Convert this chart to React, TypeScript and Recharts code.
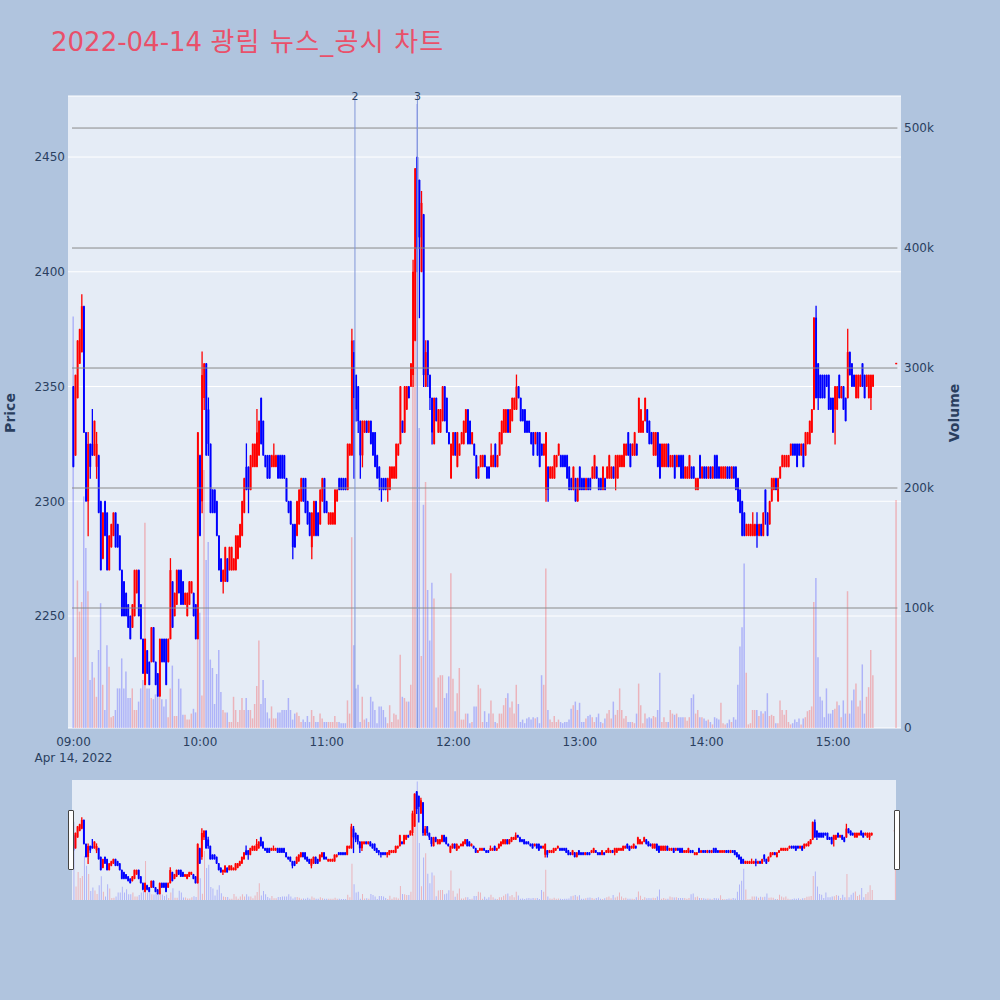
import React from 'react';
import { ComposedChart, Bar, Cell, XAxis, YAxis, CartesianGrid, ReferenceLine } from 'recharts';

const TITLE_DATE = '2022-04-14';
const TITLE_TEXT = '광림 뉴스_공시 차트';
const DATE_LABEL = 'Apr 14, 2022';

// minutes after 09:00: one-minute candles until 15:19, then the 15:30 closing auction
const MINUTES = [...Array.from({ length: 380 }, (_, i) => i), 390];

const OPEN = [
  2350, 2320, 2345, 2360, 2365, 2385, 2330, 2300, 2325, 2325,
  2320, 2315, 2320, 2300, 2275, 2300, 2295, 2270, 2280, 2285,
  2295, 2290, 2285, 2270, 2265, 2260, 2255, 2250, 2245, 2250,
  2260, 2270, 2255, 2240, 2220, 2235, 2230, 2230, 2245, 2230,
  2225, 2215, 2240, 2240, 2240, 2230, 2240, 2265, 2250, 2255,
  2270, 2270, 2265, 2255, 2250, 2255, 2260, 2260, 2255, 2240,
  2320, 2300, 2345, 2360, 2340, 2325, 2305, 2305, 2300, 2285,
  2275, 2265, 2265, 2275, 2270, 2270, 2270, 2270, 2275, 2280,
  2285, 2295, 2315, 2315, 2305, 2315, 2315, 2315, 2320, 2345,
  2335, 2320, 2320, 2320, 2315, 2315, 2315, 2320, 2320, 2320,
  2320, 2310, 2300, 2300, 2290, 2290, 2285, 2290, 2300, 2310,
  2310, 2300, 2295, 2280, 2285, 2300, 2295, 2290, 2300, 2310,
  2300, 2290, 2290, 2290, 2290, 2300, 2310, 2310, 2310, 2310,
  2305, 2320, 2320, 2365, 2355, 2350, 2335, 2320, 2330, 2335,
  2330, 2335, 2330, 2330, 2320, 2315, 2310, 2310, 2310, 2305,
  2305, 2310, 2310, 2310, 2320, 2325, 2335, 2330, 2340, 2350,
  2350, 2355, 2370, 2450, 2440, 2400, 2425, 2350, 2370, 2355,
  2345, 2325, 2345, 2330, 2330, 2335, 2350, 2345, 2330, 2310,
  2320, 2330, 2315, 2320, 2325, 2325, 2330, 2340, 2335, 2325,
  2325, 2320, 2310, 2315, 2315, 2320, 2315, 2315, 2315, 2315,
  2325, 2315, 2320, 2325, 2330, 2330, 2340, 2330, 2335, 2340,
  2340, 2350, 2345, 2340, 2340, 2335, 2335, 2330, 2330, 2325,
  2330, 2330, 2325, 2320, 2305, 2315, 2310, 2310, 2310, 2315,
  2320, 2320, 2320, 2320, 2320, 2315, 2310, 2305, 2310, 2300,
  2315, 2310, 2310, 2305, 2310, 2310, 2310, 2310, 2315, 2310,
  2310, 2305, 2310, 2310, 2310, 2310, 2315, 2310, 2310, 2315,
  2315, 2315, 2320, 2330, 2325, 2320, 2320, 2325, 2330, 2330,
  2330, 2335, 2340, 2335, 2330, 2320, 2320, 2330, 2325, 2315,
  2315, 2315, 2325, 2315, 2315, 2320, 2315, 2320, 2320, 2320,
  2310, 2310, 2310, 2315, 2315, 2305, 2305, 2320, 2310, 2315,
  2315, 2310, 2315, 2310, 2320, 2320, 2315, 2310, 2310, 2310,
  2315, 2315, 2310, 2315, 2315, 2310, 2305, 2300, 2295, 2285,
  2285, 2285, 2285, 2285, 2290, 2285, 2290, 2285, 2305, 2295,
  2290, 2300, 2305, 2310, 2300, 2310, 2315, 2315, 2315, 2315,
  2320, 2325, 2325, 2325, 2325, 2320, 2325, 2320, 2325, 2325,
  2330, 2340, 2380, 2360, 2355, 2355, 2355, 2355, 2355, 2345,
  2345, 2340, 2340, 2355, 2345, 2350, 2345, 2345, 2365, 2360,
  2355, 2345, 2345, 2350, 2360, 2355, 2350, 2345, 2345, 2350,
  2360,
];

const HIGH = [
  2350, 2355, 2370, 2375, 2390, 2385, 2330, 2330, 2325, 2340,
  2335, 2330, 2320, 2300, 2295, 2300, 2295, 2285, 2290, 2295,
  2295, 2290, 2285, 2270, 2265, 2260, 2255, 2250, 2255, 2270,
  2270, 2270, 2255, 2240, 2240, 2235, 2230, 2245, 2245, 2230,
  2225, 2240, 2240, 2240, 2240, 2240, 2275, 2265, 2260, 2270,
  2270, 2270, 2265, 2260, 2260, 2265, 2265, 2260, 2255, 2330,
  2320, 2365, 2360, 2360, 2345, 2325, 2305, 2305, 2300, 2285,
  2275, 2270, 2280, 2275, 2280, 2280, 2275, 2285, 2285, 2290,
  2300, 2310, 2325, 2315, 2320, 2325, 2325, 2340, 2335, 2345,
  2335, 2320, 2320, 2320, 2320, 2325, 2320, 2320, 2320, 2320,
  2320, 2310, 2300, 2300, 2290, 2290, 2300, 2305, 2310, 2310,
  2310, 2300, 2295, 2295, 2300, 2300, 2295, 2305, 2310, 2310,
  2300, 2295, 2295, 2295, 2305, 2305, 2310, 2310, 2310, 2310,
  2325, 2325, 2375, 2370, 2355, 2350, 2335, 2335, 2335, 2335,
  2335, 2335, 2330, 2330, 2320, 2315, 2310, 2310, 2310, 2310,
  2315, 2315, 2315, 2325, 2325, 2350, 2335, 2350, 2350, 2350,
  2360, 2405, 2445, 2450, 2440, 2435, 2425, 2370, 2370, 2355,
  2345, 2345, 2345, 2340, 2340, 2350, 2350, 2345, 2330, 2325,
  2330, 2330, 2330, 2325, 2330, 2335, 2340, 2340, 2335, 2330,
  2325, 2320, 2315, 2320, 2320, 2320, 2315, 2315, 2325, 2320,
  2325, 2320, 2330, 2335, 2340, 2340, 2340, 2340, 2345, 2345,
  2355, 2350, 2345, 2340, 2340, 2335, 2335, 2330, 2330, 2330,
  2330, 2330, 2325, 2325, 2330, 2315, 2315, 2315, 2320, 2320,
  2325, 2320, 2320, 2320, 2320, 2315, 2310, 2315, 2310, 2310,
  2315, 2310, 2310, 2310, 2310, 2310, 2315, 2320, 2315, 2310,
  2310, 2315, 2310, 2315, 2320, 2315, 2315, 2320, 2320, 2320,
  2320, 2325, 2325, 2330, 2325, 2325, 2330, 2325, 2345, 2340,
  2335, 2345, 2340, 2335, 2330, 2330, 2330, 2330, 2325, 2325,
  2325, 2325, 2325, 2320, 2320, 2320, 2320, 2320, 2320, 2320,
  2315, 2315, 2320, 2315, 2315, 2310, 2310, 2320, 2315, 2315,
  2315, 2315, 2315, 2315, 2320, 2320, 2315, 2315, 2315, 2315,
  2315, 2315, 2315, 2315, 2315, 2310, 2305, 2300, 2295, 2290,
  2290, 2290, 2295, 2290, 2295, 2290, 2290, 2295, 2305, 2295,
  2300, 2310, 2310, 2310, 2310, 2315, 2320, 2320, 2320, 2320,
  2325, 2325, 2325, 2325, 2325, 2325, 2325, 2330, 2330, 2335,
  2340, 2380, 2385, 2360, 2355, 2355, 2355, 2355, 2355, 2345,
  2345, 2350, 2350, 2355, 2350, 2350, 2345, 2375, 2365, 2360,
  2355, 2355, 2355, 2355, 2360, 2355, 2355, 2355, 2355, 2355,
  2360,
];

const LOW = [
  2315, 2320, 2345, 2360, 2365, 2330, 2300, 2285, 2310, 2320,
  2320, 2310, 2295, 2270, 2275, 2285, 2270, 2270, 2280, 2285,
  2280, 2280, 2270, 2250, 2250, 2250, 2245, 2240, 2245, 2250,
  2260, 2250, 2240, 2225, 2220, 2225, 2220, 2230, 2230, 2220,
  2215, 2215, 2230, 2230, 2220, 2230, 2240, 2245, 2250, 2255,
  2260, 2255, 2255, 2255, 2250, 2255, 2260, 2250, 2240, 2240,
  2285, 2295, 2340, 2320, 2320, 2295, 2295, 2295, 2285, 2270,
  2265, 2260, 2265, 2265, 2270, 2270, 2270, 2270, 2275, 2280,
  2285, 2295, 2305, 2295, 2305, 2315, 2315, 2315, 2320, 2325,
  2320, 2315, 2310, 2310, 2315, 2315, 2315, 2310, 2310, 2310,
  2310, 2300, 2295, 2290, 2275, 2280, 2285, 2290, 2300, 2300,
  2295, 2290, 2285, 2275, 2285, 2285, 2285, 2290, 2300, 2295,
  2295, 2290, 2290, 2290, 2290, 2300, 2305, 2305, 2305, 2305,
  2305, 2320, 2320, 2310, 2335, 2330, 2310, 2315, 2330, 2330,
  2330, 2325, 2320, 2315, 2310, 2305, 2300, 2305, 2305, 2300,
  2305, 2310, 2310, 2310, 2320, 2325, 2330, 2330, 2340, 2345,
  2350, 2350, 2370, 2400, 2380, 2400, 2350, 2350, 2350, 2340,
  2325, 2325, 2335, 2330, 2330, 2335, 2335, 2330, 2325, 2310,
  2320, 2320, 2315, 2320, 2325, 2325, 2330, 2325, 2325, 2325,
  2320, 2310, 2310, 2315, 2315, 2315, 2310, 2310, 2315, 2315,
  2315, 2315, 2320, 2325, 2330, 2330, 2330, 2330, 2335, 2340,
  2340, 2345, 2335, 2335, 2330, 2330, 2330, 2325, 2320, 2325,
  2320, 2315, 2320, 2320, 2300, 2300, 2310, 2310, 2310, 2315,
  2320, 2315, 2315, 2315, 2310, 2305, 2305, 2305, 2300, 2300,
  2305, 2305, 2305, 2305, 2305, 2305, 2310, 2310, 2310, 2305,
  2305, 2305, 2305, 2310, 2310, 2310, 2310, 2305, 2310, 2315,
  2315, 2315, 2320, 2320, 2315, 2320, 2320, 2320, 2330, 2330,
  2330, 2335, 2330, 2325, 2325, 2320, 2320, 2315, 2310, 2315,
  2315, 2315, 2315, 2315, 2315, 2310, 2315, 2315, 2310, 2310,
  2310, 2310, 2310, 2310, 2310, 2305, 2305, 2310, 2310, 2310,
  2310, 2310, 2310, 2310, 2310, 2310, 2310, 2310, 2310, 2310,
  2310, 2310, 2310, 2310, 2305, 2300, 2295, 2285, 2285, 2285,
  2285, 2285, 2285, 2285, 2280, 2285, 2285, 2285, 2290, 2285,
  2290, 2300, 2305, 2305, 2300, 2310, 2315, 2315, 2315, 2315,
  2320, 2320, 2320, 2315, 2320, 2320, 2315, 2320, 2325, 2325,
  2330, 2340, 2345, 2340, 2345, 2345, 2345, 2350, 2340, 2340,
  2330, 2325, 2340, 2345, 2345, 2340, 2335, 2345, 2355, 2350,
  2350, 2345, 2345, 2350, 2350, 2345, 2350, 2345, 2340, 2350,
  2360,
];

const CLOSE = [
  2315, 2355, 2370, 2375, 2385, 2330, 2300, 2325, 2315, 2320,
  2335, 2325, 2295, 2270, 2295, 2285, 2270, 2285, 2290, 2295,
  2280, 2280, 2270, 2250, 2250, 2250, 2245, 2240, 2255, 2270,
  2270, 2250, 2240, 2225, 2240, 2225, 2220, 2245, 2230, 2220,
  2215, 2240, 2230, 2230, 2220, 2240, 2270, 2245, 2260, 2270,
  2260, 2255, 2255, 2260, 2260, 2265, 2265, 2250, 2240, 2330,
  2285, 2355, 2360, 2320, 2325, 2295, 2295, 2295, 2285, 2270,
  2265, 2270, 2280, 2265, 2280, 2280, 2275, 2285, 2285, 2290,
  2300, 2310, 2305, 2305, 2320, 2325, 2325, 2330, 2335, 2325,
  2320, 2315, 2310, 2310, 2320, 2320, 2320, 2310, 2310, 2310,
  2310, 2300, 2295, 2290, 2280, 2280, 2300, 2305, 2310, 2300,
  2295, 2290, 2285, 2295, 2300, 2285, 2285, 2305, 2310, 2295,
  2295, 2295, 2295, 2295, 2305, 2305, 2305, 2305, 2305, 2305,
  2325, 2325, 2370, 2345, 2340, 2335, 2320, 2335, 2335, 2330,
  2335, 2325, 2320, 2315, 2310, 2310, 2305, 2305, 2305, 2310,
  2315, 2315, 2315, 2325, 2325, 2350, 2330, 2350, 2350, 2345,
  2360, 2400, 2445, 2410, 2415, 2430, 2355, 2365, 2355, 2345,
  2330, 2345, 2335, 2340, 2340, 2350, 2335, 2330, 2325, 2325,
  2330, 2320, 2330, 2325, 2330, 2335, 2340, 2325, 2325, 2330,
  2320, 2310, 2315, 2320, 2320, 2315, 2310, 2310, 2320, 2320,
  2315, 2320, 2330, 2335, 2340, 2340, 2330, 2340, 2345, 2345,
  2350, 2345, 2335, 2335, 2330, 2330, 2330, 2325, 2320, 2330,
  2320, 2315, 2320, 2325, 2330, 2305, 2315, 2315, 2320, 2320,
  2325, 2315, 2315, 2315, 2310, 2305, 2305, 2315, 2300, 2310,
  2305, 2305, 2305, 2310, 2305, 2305, 2315, 2320, 2310, 2305,
  2305, 2315, 2305, 2315, 2320, 2315, 2310, 2320, 2320, 2320,
  2320, 2325, 2325, 2320, 2315, 2325, 2330, 2320, 2345, 2340,
  2335, 2345, 2330, 2325, 2325, 2330, 2330, 2315, 2310, 2325,
  2325, 2325, 2315, 2320, 2320, 2310, 2320, 2315, 2310, 2310,
  2315, 2315, 2320, 2310, 2310, 2310, 2310, 2310, 2315, 2310,
  2310, 2315, 2310, 2315, 2310, 2310, 2310, 2315, 2315, 2315,
  2310, 2310, 2315, 2310, 2305, 2300, 2295, 2285, 2285, 2290,
  2290, 2290, 2290, 2290, 2285, 2290, 2285, 2295, 2295, 2285,
  2300, 2310, 2310, 2305, 2310, 2315, 2320, 2320, 2320, 2320,
  2325, 2320, 2320, 2315, 2320, 2325, 2315, 2330, 2330, 2335,
  2340, 2380, 2345, 2345, 2345, 2345, 2345, 2350, 2340, 2340,
  2330, 2350, 2350, 2345, 2350, 2340, 2335, 2365, 2355, 2350,
  2350, 2355, 2355, 2355, 2350, 2345, 2355, 2355, 2355, 2355,
  2360,
];

// traded volume per minute, in thousands of shares
const VOLUME_K = [
  343, 59, 123, 97, 105, 193, 150, 114, 40, 55,
  42, 26, 65, 104, 36, 15, 69, 51, 9, 10,
  15, 33, 33, 58, 33, 47, 25, 25, 33, 15,
  15, 22, 33, 40, 171, 33, 33, 25, 24, 28,
  28, 40, 24, 18, 24, 9, 33, 52, 10, 10,
  41, 33, 11, 11, 7, 7, 12, 16, 13, 246,
  96, 27, 215, 140, 155, 57, 50, 20, 45, 65,
  30, 15, 13, 13, 5, 5, 26, 15, 5, 15,
  25, 15, 25, 15, 15, 8, 20, 35, 73, 20,
  40, 25, 13, 8, 18, 8, 8, 13, 13, 15,
  15, 15, 25, 15, 7, 12, 13, 10, 5, 7,
  5, 10, 5, 15, 10, 5, 5, 12, 8, 5,
  5, 5, 5, 5, 10, 5, 5, 4, 4, 4,
  23, 12, 159, 69, 33, 36, 5, 26, 7, 8,
  5, 26, 22, 15, 4, 18, 18, 15, 9, 4,
  19, 5, 12, 11, 7, 61, 26, 25, 22, 22,
  36, 290, 440, 520, 250, 60, 186, 205, 115, 73,
  121, 108, 17, 42, 44, 44, 25, 29, 43, 129,
  41, 14, 29, 50, 7, 7, 12, 12, 4, 5,
  18, 18, 36, 33, 5, 14, 5, 12, 23, 12,
  5, 4, 12, 12, 19, 25, 29, 17, 22, 12,
  36, 20, 5, 7, 4, 8, 9, 7, 9, 8,
  9, 4, 44, 36, 133, 15, 7, 5, 10, 5,
  7, 5, 4, 5, 5, 7, 16, 19, 22, 15,
  21, 5, 5, 8, 10, 11, 9, 5, 9, 12,
  5, 4, 8, 12, 15, 8, 22, 11, 15, 33,
  15, 8, 10, 5, 5, 5, 4, 12, 37, 19,
  4, 12, 8, 9, 8, 10, 9, 15, 46, 5,
  9, 5, 5, 15, 12, 11, 12, 9, 9, 9,
  9, 6, 9, 25, 28, 12, 15, 9, 9, 8,
  6, 7, 5, 3, 9, 8, 7, 21, 4, 3,
  4, 7, 5, 9, 7, 36, 68, 84, 137, 46,
  3, 4, 15, 15, 15, 10, 14, 12, 14, 29,
  10, 11, 10, 4, 4, 23, 15, 11, 15, 5,
  3, 4, 7, 5, 8, 3, 8, 9, 14, 15,
  18, 105, 125, 59, 26, 23, 9, 33, 12, 12,
  15, 16, 22, 19, 9, 23, 12, 114, 12, 23,
  32, 37, 18, 23, 53, 12, 26, 34, 65, 44,
  190,
];

const TIME_TICKS = [0, 60, 120, 180, 240, 300, 360];
const TIME_LABELS = ['09:00', '10:00', '11:00', '12:00', '13:00', '14:00', '15:00'];
const PRICE_TICKS = [2250, 2300, 2350, 2400, 2450];
const VOLUME_TICKS = [0, 100000, 200000, 300000, 400000, 500000];

// news / disclosure markers (minutes after 09:00)
const NEWS_MINUTES = [133.4, 163];
const NEWS_LABELS = ['2', '3'];

const X_DOMAIN: [number, number] = [-2.6, 392.2];
const SLIDER_X_DOMAIN: [number, number] = [-0.7, 390.5];
const PRICE_DOMAIN: [number, number] = [2201.2, 2476.6];
const VOLUME_DOMAIN: [number, number] = [0, 526700];

const UP = '#ff0000';
const DOWN = '#0000ff';
const INK = '#2a3f5f';
const PAGE_BG = '#b0c4de';
const PLOT_BG = '#e5ecf6';
const TITLE_COLOR = '#e9506a';
const FONT = '"DejaVu Sans", Verdana, "Noto Sans CJK KR", sans-serif';

const rows = MINUTES.map((t, i) => ({
  t,
  open: OPEN[i],
  high: HIGH[i],
  low: LOW[i],
  close: CLOSE[i],
  volume: VOLUME_K[i] * 1000,
}));

const priceRange = (d: any) => [d.low, d.high];

const fmtVolume = (v: number) => (v === 0 ? '0' : `${v / 1000}k`);

function Candle(props: any) {
  const { x, y, width, height, payload } = props;
  if (payload == null || x == null || y == null) return null;
  const top = Math.min(y, y + height);
  const h = Math.abs(height);
  const span = payload.high - payload.low;
  const k = span > 0 ? h / span : 0;
  const yOpen = top + (payload.high - payload.open) * k;
  const yClose = top + (payload.high - payload.close) * k;
  const color = payload.close >= payload.open ? UP : DOWN;
  const cx = x + width / 2;
  const bodyTop = Math.min(yOpen, yClose);
  const bodyH = Math.abs(yOpen - yClose);
  const minH = 1.5;
  return (
    <g>
      <line x1={cx} x2={cx} y1={top - 0.5} y2={top + h + 0.5} stroke={color} strokeWidth={1.3} />
      <rect
        x={x}
        y={bodyH < minH ? bodyTop - (minH - bodyH) / 2 : bodyTop}
        width={width}
        height={Math.max(bodyH, minH)}
        fill={color}
      />
    </g>
  );
}

function TimeTick({ x, y, payload }: any) {
  const i = TIME_TICKS.indexOf(payload.value);
  return (
    <g>
      <text x={x} y={y + 17.5} textAnchor="middle" fontSize={12} fill={INK} fontFamily={FONT}>
        {TIME_LABELS[i]}
      </text>
      {i === 0 ? (
        <text x={x} y={y + 33.5} textAnchor="middle" fontSize={12} fill={INK} fontFamily={FONT}>
          {DATE_LABEL}
        </text>
      ) : null}
    </g>
  );
}

export default function App() {
  return (
    <div
      style={{
        position: 'absolute',
        left: 0,
        top: 0,
        width: 1000,
        height: 1000,
        background: PAGE_BG,
        fontFamily: FONT,
        overflow: 'hidden',
      }}
    >
      {/* main price / volume chart */}
      <div style={{ position: 'absolute', left: 0, top: 0 }}>
        <ComposedChart width={1000} height={780} data={rows} margin={{ top: 96, right: 0, bottom: 0, left: 0 }}>
          <CartesianGrid xAxisId="x" yAxisId="p" vertical={false} stroke="#ffffff" strokeWidth={1} fill={PLOT_BG} fillOpacity={1} />
          <XAxis xAxisId="v" type="number" dataKey="t" domain={X_DOMAIN} allowDataOverflow hide height={0} />
          <XAxis
            xAxisId="x"
            type="number"
            dataKey="t"
            domain={X_DOMAIN}
            allowDataOverflow
            ticks={TIME_TICKS}
            interval={0}
            tick={<TimeTick />}
            tickLine={false}
            axisLine={false}
            tickSize={0}
            tickMargin={0}
            height={52}
          />
          <YAxis
            yAxisId="p"
            orientation="left"
            domain={PRICE_DOMAIN}
            allowDataOverflow
            ticks={PRICE_TICKS}
            interval={0}
            width={68}
            tickLine={false}
            axisLine={false}
            tickSize={0}
            tickMargin={3}
            tick={{ fill: INK, fontSize: 12, fontFamily: FONT }}
          />
          <YAxis
            yAxisId="vol"
            orientation="right"
            domain={VOLUME_DOMAIN}
            allowDataOverflow
            ticks={VOLUME_TICKS}
            interval={0}
            tickFormatter={fmtVolume}
            width={99}
            tickLine={false}
            axisLine={false}
            tickSize={0}
            tickMargin={3}
            tick={{ fill: INK, fontSize: 12, fontFamily: FONT }}
          />
          <Bar xAxisId="v" yAxisId="vol" dataKey="volume" barSize={1.5} isAnimationActive={false}>
            {rows.map((r, i) => (
              <Cell key={`v-${i}`} fill={r.close >= r.open ? UP : DOWN} fillOpacity={0.24} />
            ))}
          </Bar>
          <Bar
            xAxisId="x"
            yAxisId="p"
            dataKey={priceRange}
            barSize={2.4}
            isAnimationActive={false}
            shape={(p: any) => <Candle {...p} />}
          />
          {VOLUME_TICKS.filter((v) => v > 0).map((v) => (
            <ReferenceLine
              key={`g-${v}`}
              xAxisId="x"
              yAxisId="vol"
              segment={[{ x: SLIDER_X_DOMAIN[0], y: v }, { x: SLIDER_X_DOMAIN[1], y: v }]}
              stroke="#8a8a8a"
              strokeWidth={1}
            />
          ))}
          {NEWS_MINUTES.map((m, i) => (
            <ReferenceLine
              key={`n-${i}`}
              xAxisId="x"
              yAxisId="p"
              x={m}
              stroke="#8197d8"
              strokeWidth={1}
              label={{ value: NEWS_LABELS[i], position: 'top', offset: -4, fill: INK, fontSize: 11, fontFamily: FONT }}
            />
          ))}
        </ComposedChart>
      </div>

      {/* range slider */}
      <div style={{ position: 'absolute', left: 72, top: 780, width: 824, height: 120, background: PLOT_BG }} />
      <div style={{ position: 'absolute', left: 0, top: 780 }}>
        <ComposedChart width={1000} height={120} data={rows} margin={{ top: 0, right: 104, bottom: 0, left: 72 }}>
          <XAxis xAxisId="x" type="number" dataKey="t" domain={SLIDER_X_DOMAIN} allowDataOverflow hide height={0} />
          <XAxis xAxisId="v" type="number" dataKey="t" domain={SLIDER_X_DOMAIN} allowDataOverflow hide height={0} />
          <YAxis yAxisId="p" domain={PRICE_DOMAIN} allowDataOverflow hide width={0} />
          <YAxis yAxisId="vol" domain={VOLUME_DOMAIN} allowDataOverflow hide width={0} />
          <Bar xAxisId="v" yAxisId="vol" dataKey="volume" barSize={1} isAnimationActive={false}>
            {rows.map((r, i) => (
              <Cell key={`sv-${i}`} fill={r.close >= r.open ? UP : DOWN} fillOpacity={0.24} />
            ))}
          </Bar>
          <Bar
            xAxisId="x"
            yAxisId="p"
            dataKey={priceRange}
            barSize={2.4}
            isAnimationActive={false}
            shape={(p: any) => <Candle {...p} />}
          />
        </ComposedChart>
      </div>
      <div style={{ position: 'absolute', left: 68, top: 810, width: 4, height: 58, background: '#fff', border: '1px solid #444', borderRadius: 1 }} />
      <div style={{ position: 'absolute', left: 894, top: 810, width: 4, height: 58, background: '#fff', border: '1px solid #444', borderRadius: 1 }} />

      {/* title and axis titles */}
      <svg width={1000} height={1000} style={{ position: 'absolute', left: 0, top: 0, pointerEvents: 'none' }}>
        <text x={51} y={50.5} fontSize={26} fill={TITLE_COLOR} fontFamily={FONT}>
          {TITLE_DATE} <tspan letterSpacing={1.2}>{TITLE_TEXT}</tspan>
        </text>
        <text transform="translate(15,413) rotate(-90)" textAnchor="middle" fontSize={14} fontWeight="bold" fill={INK} fontFamily={FONT}>
          Price
        </text>
        <text transform="translate(959,413) rotate(-90)" textAnchor="middle" fontSize={14} fontWeight="bold" fill={INK} fontFamily={FONT}>
          Volume
        </text>
      </svg>
    </div>
  );
}
